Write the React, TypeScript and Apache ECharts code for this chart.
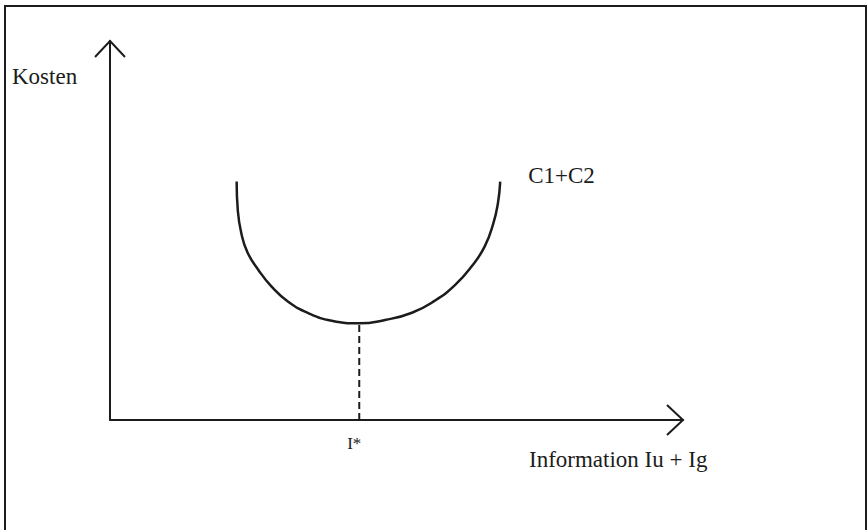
import { useEffect, useRef } from 'react';
import * as echarts from 'echarts';

// Total cost curve C1+C2 (x: information, y: cost)
const curveX = [22.1, 22.3, 22.9, 24.0, 25.9, 28.2, 31.1, 34.6, 38.7, 43.5, 48.0, 52.7, 56.7, 60.2, 63.1, 65.4, 66.9, 67.7, 68.1];
const curveY = [62.9, 55.4, 49.4, 44.2, 39.6, 35.2, 31.2, 28.2, 26.2, 25.5, 26.4, 28.3, 31.5, 35.6, 40.5, 45.8, 51.9, 57.2, 62.9];
const curveName = 'C1+C2';

// Optimum I*
const optimumX = 43.5;
const optimumY = 25.5;
const optimumLabel = 'I*';

// Axis titles
const yTitle = 'Kosten';
const xTitle = 'Information Iu + Ig';

const W = 867;
const H = 530;
const gridLeft = 110;
const gridTop = 41;
const gridRight = 184;
const gridBottom = 110;
const ink = '#1c1c1c';
const font = '"Liberation Serif", "Times New Roman", serif';
const fontSize = 23;

export default function App() {
  const ref = useRef<HTMLDivElement>(null);
  useEffect(() => {
    if (!ref.current) return;
    const chart = echarts.init(ref.current, null, { renderer: 'svg' });
    const xTipX = W - gridRight;
    const xTipY = H - gridBottom;
    const yTipX = gridLeft;
    const yTipY = gridTop;
    chart.setOption({
      animation: false,
      backgroundColor: '#ffffff',
      grid: { left: gridLeft, top: gridTop, right: gridRight, bottom: gridBottom, outerBoundsMode: 'none', containLabel: false },
      xAxis: {
        type: 'value',
        min: 0,
        max: 100,
        splitLine: { show: false },
        axisTick: { show: false },
        axisLine: { show: true, lineStyle: { color: ink, width: 2 } },
        axisLabel: {
          show: true,
          customValues: [optimumX],
          formatter: () => optimumLabel,
          color: ink,
          fontFamily: font,
          fontSize: 17,
          margin: 23,
          verticalAlign: 'middle',
          padding: [0, 10, 0, 0],
        },
      },
      yAxis: {
        type: 'value',
        min: 0,
        max: 100,
        splitLine: { show: false },
        axisTick: { show: false },
        axisLabel: { show: false },
        axisLine: { show: true, lineStyle: { color: ink, width: 2 } },
      },
      series: [
        {
          name: curveName,
          type: 'line',
          smooth: 0.5,
          symbol: 'none',
          data: curveX.map((x, i) => [x, curveY[i]]),
          lineStyle: { color: ink, width: 2.5 },
          endLabel: {
            show: true,
            formatter: curveName,
            color: ink,
            fontFamily: font,
            fontSize,
            distance: 28,
            offset: [0, -6],
          },
        },
        {
          name: 'optimum',
          type: 'line',
          symbol: 'none',
          data: [[optimumX, 0], [optimumX, optimumY]],
          lineStyle: { color: ink, width: 2, type: [7, 4] },
        },
      ],
      graphic: [
        {
          type: 'rect',
          shape: { x: 5, y: 6, width: 861, height: 600 },
          style: { fill: 'none', stroke: ink, lineWidth: 2 },
          silent: true,
        },
        {
          type: 'polyline',
          shape: { points: [[yTipX - 15, yTipY + 16], [yTipX, yTipY], [yTipX + 15, yTipY + 16]] },
          style: { fill: 'none', stroke: ink, lineWidth: 2 },
        },
        {
          type: 'polyline',
          shape: { points: [[xTipX - 16, xTipY - 15], [xTipX, xTipY], [xTipX - 16, xTipY + 15]] },
          style: { fill: 'none', stroke: ink, lineWidth: 2 },
        },
        {
          type: 'text',
          x: 12,
          y: 76,
          style: { text: yTitle, fill: ink, font: `${fontSize}px ${font}`, verticalAlign: 'middle', align: 'left' },
        },
        {
          type: 'text',
          x: 529,
          y: 459,
          style: { text: xTitle, fill: ink, font: `${fontSize}px ${font}`, verticalAlign: 'middle', align: 'left' },
        },
      ],
    });
    return () => chart.dispose();
  }, []);
  return <div ref={ref} style={{ position: 'fixed', left: 0, top: 0, width: W, height: H }} />;
}
